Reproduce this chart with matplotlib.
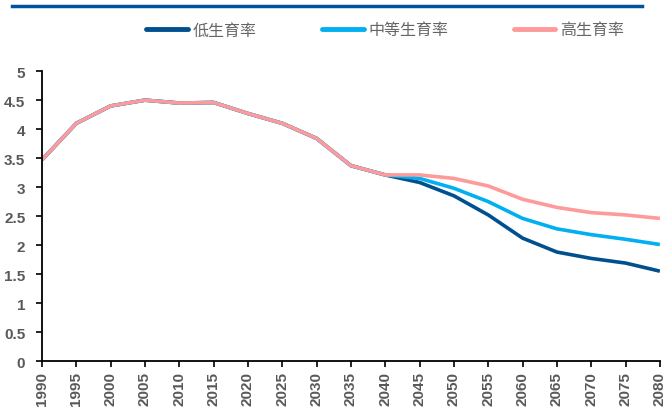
import matplotlib
matplotlib.use("Agg")
import matplotlib.pyplot as plt
import matplotlib.lines as mlines

plt.rcParams['font.family'] = ['Liberation Sans', 'Noto Sans CJK SC', 'DejaVu Sans']

years = list(range(1990, 2081, 5))
low = [3.47, 4.10, 4.40, 4.50, 4.45, 4.46, 4.27, 4.10, 3.84, 3.37, 3.21,
       3.08, 2.85, 2.52, 2.12, 1.88, 1.77, 1.69, 1.55]
mid = [3.47, 4.10, 4.40, 4.50, 4.45, 4.46, 4.27, 4.10, 3.84, 3.37, 3.21,
       3.15, 2.98, 2.75, 2.46, 2.28, 2.18, 2.10, 2.01]
high = [3.47, 4.10, 4.40, 4.50, 4.45, 4.46, 4.27, 4.10, 3.84, 3.37, 3.21,
        3.21, 3.15, 3.02, 2.79, 2.65, 2.56, 2.52, 2.46]
names = ['低生育率', '中等生育率', '高生育率']
colors = ['#00508F', '#00B0F0', '#FF9A9A']

fig = plt.figure(figsize=(6.63, 4.10), dpi=100)
ax = fig.add_axes([0.0633, 0.117, 0.932, 0.707])

for vals, c, n in zip([low, mid, high], colors, names):
    ax.plot(years, vals, color=c, lw=2.6, label=n, solid_capstyle='butt')

ax.set_xlim(1990, 2080)
ax.set_ylim(0, 5)
ax.set_xticks(years)
ax.set_xticklabels([str(y) for y in years], rotation=90)
ax.set_yticks([0, 0.5, 1, 1.5, 2, 2.5, 3, 3.5, 4, 4.5, 5])
ax.set_yticklabels(['0', '0.5', '1', '1.5', '2', '2.5', '3', '3.5', '4', '4.5', '5'])
for lab in ax.get_xticklabels() + ax.get_yticklabels():
    lab.set_fontweight('bold')
    lab.set_color('#595959')
    lab.set_fontsize(11)
ax.tick_params(axis='both', direction='out', length=4, width=1.2, color='black', pad=3)
ax.tick_params(axis='y', pad=8)
ax.spines['top'].set_visible(False)
ax.spines['right'].set_visible(False)
ax.spines['left'].set_linewidth(1.3)
ax.spines['bottom'].set_linewidth(1.3)

# top rule
fig.add_artist(mlines.Line2D([12 / 663, 642 / 663], [1 - 6.5 / 410, 1 - 6.5 / 410],
                             color='#00529B', lw=2.5))

leg = fig.legend(loc='center', bbox_to_anchor=(0.581, 1 - 31 / 410), ncol=3, frameon=False,
                 handlelength=2.6, handletextpad=0.3, columnspacing=4.1,
                 prop={'family': ['Noto Sans CJK SC'], 'size': 11.5})
for t in leg.get_texts():
    t.set_color('#666666')
for h in leg.legend_handles:
    h.set_linewidth(3.5)
    h.set_solid_capstyle('round')

fig.savefig('out.png', dpi=100)
